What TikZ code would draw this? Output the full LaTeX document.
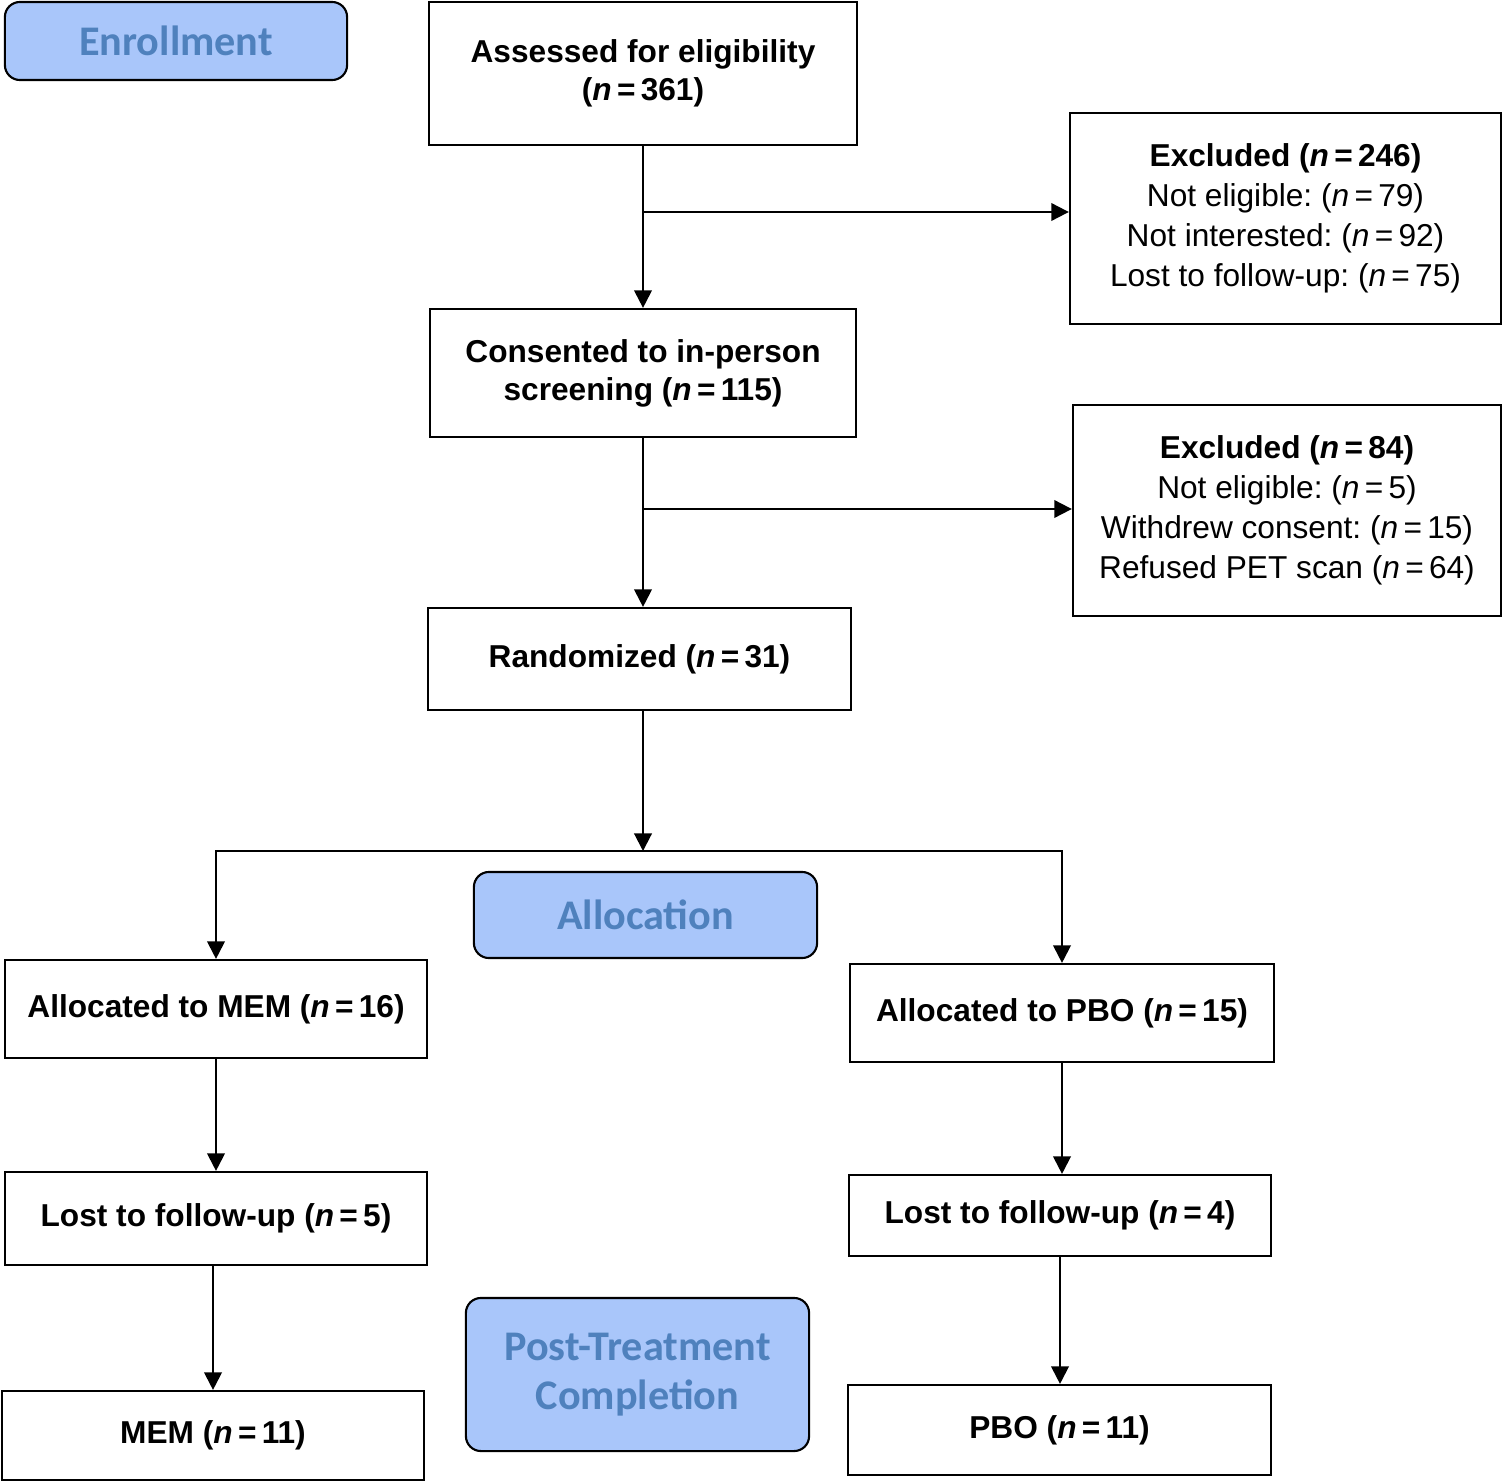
\documentclass[tikz,border=0pt]{standalone}
\usepackage{fontspec}
\setmainfont{Liberation Sans}
\newfontfamily\stagefont{Carlito}
\usetikzlibrary{arrows.meta,positioning}
\definecolor{stagefill}{HTML}{A9C6FA}
\definecolor{stagetext}{HTML}{4F81BD}
\newcommand{\ncount}[1]{(\textit{n}\,=\,#1)}
\frenchspacing
\tikzset{
  box/.style={draw, line width=0.6pt, align=center, inner sep=0pt,
    font=\fontsize{9}{11.4}\selectfont},
  mainbox/.style={box, font=\fontsize{9}{10.8}\selectfont\bfseries},
  stage/.style={draw, line width=0.6pt, rounded corners=0.15cm, fill=stagefill,
    text=stagetext, align=center, inner sep=0pt,
    font=\stagefont\bfseries\fontsize{12}{14}\selectfont},
  flow/.style={line width=0.6pt, -{Triangle[length=5pt,width=5pt]}},
}
\begin{document}
\begin{tikzpicture}[x=0.01cm, y=-0.01cm]
    \useasboundingbox (0,0) rectangle (1503,1482);

    % stage labels
    \node [stage, minimum width=3.42cm, minimum height=0.78cm] at (176,41) (enroll) {Enrollment};
    \node [stage, minimum width=3.43cm, minimum height=0.86cm] at (645.5,915) (alloc) {Allocation};
    \node [stage, minimum width=3.43cm, minimum height=1.53cm] at (637.5,1374.5) (post) {Post-Treatment\\Completion};

    % enrollment
    \node [mainbox, minimum width=4.28cm, minimum height=1.43cm] at (643,73.5) (assessed) {Assessed for eligibility\\\ncount{361}};
    \node [box, minimum width=4.31cm, minimum height=2.11cm] at (1285.5,218.5) (excl1)
        {\textbf{Excluded \ncount{246}}\\Not eligible: \ncount{79}\\Not interested: \ncount{92}\\Lost to follow-up: \ncount{75}};
    \node [mainbox, minimum width=4.25cm, minimum height=1.28cm] at (643,373) (consented) {Consented to in-person\\screening \ncount{115}};
    \node [box, minimum width=4.28cm, minimum height=2.11cm] at (1287,510.5) (excl2)
        {\textbf{Excluded \ncount{84}}\\Not eligible: \ncount{5}\\Withdrew consent: \ncount{15}\\Refused PET scan \ncount{64}};
    \node [mainbox, minimum width=4.23cm, minimum height=1.02cm] at (639.5,659) (rand) {Randomized \ncount{31}};

    % arms
    \node [mainbox, minimum width=4.22cm, minimum height=0.98cm] at (216,1009) (memalloc) {Allocated to MEM \ncount{16}};
    \node [mainbox, minimum width=4.24cm, minimum height=0.98cm] at (1062,1013) (pboalloc) {Allocated to PBO \ncount{15}};
    \node [mainbox, minimum width=4.22cm, minimum height=0.93cm] at (216,1218.5) (memlost) {Lost to follow-up \ncount{5}};
    \node [mainbox, minimum width=4.22cm, minimum height=0.81cm] at (1060,1215.5) (pbolost) {Lost to follow-up \ncount{4}};
    \node [mainbox, minimum width=4.22cm, minimum height=0.89cm] at (213,1435.5) (memfinal) {MEM \ncount{11}};
    \node [mainbox, minimum width=4.23cm, minimum height=0.90cm] at (1059.5,1430) (pbofinal) {PBO \ncount{11}};

    % connectors
    \coordinate (y1) at (0,212);
    \coordinate (y2) at (0,509);
    \coordinate (split) at (643,851);
    \coordinate (b1) at (consented.north |- y1);
    \coordinate (b2) at (consented.south |- y2);
    \draw [flow] (assessed.south) -- (consented.north);
    \draw [flow] (b1) -- (b1 -| excl1.west);
    \draw [flow] (consented.south) -- (consented.south |- rand.north);
    \draw [flow] (b2) -- (b2 -| excl2.west);
    \draw [flow] (rand.south -| split) -- (split);
    \draw [flow] (split) -| (memalloc.north);
    \draw [flow] (split) -| (pboalloc.north);
    \draw [flow] (memalloc.south) -- (memlost.north);
    \draw [flow] (memlost.south -| memfinal.north) -- (memfinal.north);
    \draw [flow] (pboalloc.south) -- (pboalloc.south |- pbolost.north);
    \draw [flow] (pbolost.south) -- (pbolost.south |- pbofinal.north);
\end{tikzpicture}
\end{document}
